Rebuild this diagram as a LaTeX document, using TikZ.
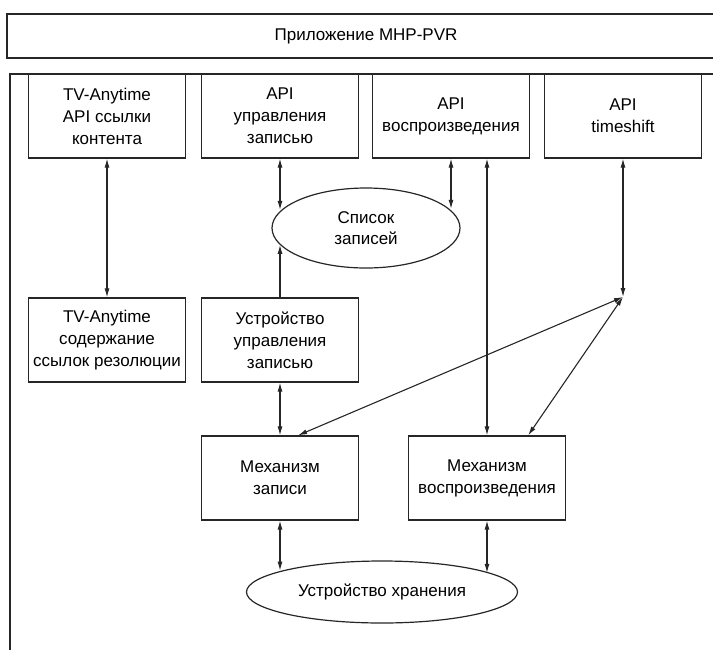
\documentclass[tikz,border=0pt]{standalone}
\usepackage{fontspec}
\setmainfont{Liberation Sans}
\usetikzlibrary{arrows.meta,positioning,shapes.geometric}
\tikzset{
  appbox/.style={draw=black!85,line width=1.2pt,minimum width=718pt,
    minimum height=44pt,inner sep=0pt,font=\fontsize{17}{22}\selectfont},
  modbox/.style={draw=black!85,line width=1.3pt,minimum width=157pt,
    minimum height=84pt,inner sep=1pt,align=center,font=\fontsize{17}{22}\selectfont},
  store/.style={draw=black!85,line width=1.2pt,ellipse,inner sep=0pt,
    align=center,font=\fontsize{17}{21}\selectfont},
  link/.style={{Latex[length=9pt,width=5pt]}-{Latex[length=9pt,width=5pt]},
    line width=1.1pt,draw=black!85},
  uplink/.style={-{Latex[length=9pt,width=5pt]},line width=1.1pt,draw=black!85},
}
\begin{document}
\begin{tikzpicture}[x=1pt,y=-1pt]
  \useasboundingbox (0,0) rectangle (713,649);
  \node[appbox] (app) at (366,36) {Приложение MHP-PVR};
  \draw[line width=1.2pt,draw=black!85] (10,655) -- (10,74) -- (720,74);
  % API row
  \node[modbox] (tvapi) at (107,116) {TV-Anytime\\API ссылки\\контента};
  \node[modbox] (recapi) at (280,116) {API\\управления\\записью};
  \node[modbox] (playapi) at (451,116) {API\\воспроизведения};
  \node[modbox] (tsapi) at (623,116) {API\\timeshift};
  \node[store,minimum width=188pt,minimum height=80pt] (reclist) at (366,228)
    {Список\\записей};
  \node[modbox] (tvres) at (107,340) {TV-Anytime\\содержание\\ссылок резолюции};
  \node[modbox] (recctl) at (280,340) {Устройство\\управления\\записью};
  \node[modbox] (recmech) at (280,478) {Механизм\\записи};
  \node[modbox] (playmech) at (487,478) {Механизм\\воспроизведения};
  \node[store,minimum width=271pt,minimum height=62pt] (storage) at (382,592)
    {Устройство хранения};
  \coordinate (tsjoin) at (623,297);
  \draw[link] (tvapi) -- (tvres);
  \draw[link] (recapi.south) -- (reclist.168.7 -| recapi.south);
  \draw[uplink] (recctl.north) -- (reclist.191.3 -| recctl.north);
  \draw[link] (playapi.south) -- (reclist.13 -| playapi.south);
  \draw[link] (playapi.south -| playmech.north) -- (playmech.north);
  \draw[link] (tsapi.south) -- (tsjoin);
  \draw[link] (tsjoin) -- (recmech.67);
  \draw[link] (tsjoin) -- (playmech.46);
  \draw[link] (recctl) -- (recmech);
  \draw[link] (recmech.south) -- (storage.168.5 -| recmech.south);
  \draw[link] (playmech.south) -- (storage.10.5 -| playmech.south);
\end{tikzpicture}
\end{document}
